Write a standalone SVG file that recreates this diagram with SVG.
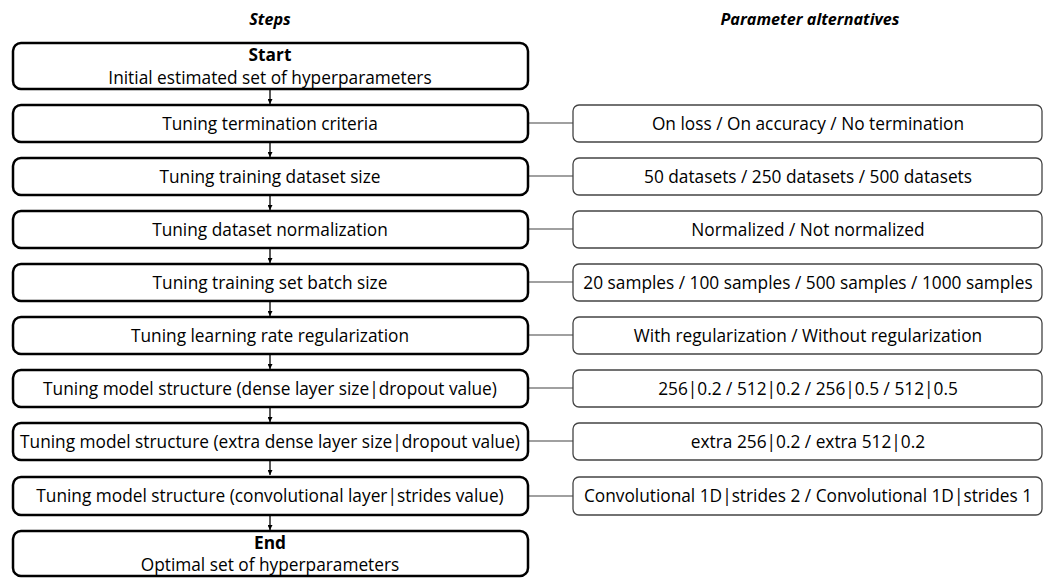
<svg xmlns="http://www.w3.org/2000/svg" width="1048" height="578" viewBox="0 0 1048 578">
<defs>
<style>
text{font-family:"Open Sans","Liberation Sans",sans-serif;font-size:17.3px;fill:#000;text-anchor:middle}
.title{font-weight:bold;font-style:italic;font-size:16.2px}
.b{font-weight:bold}
.step{fill:#fff;stroke:#000;stroke-width:2.5}
.alt{fill:#fff;stroke:#444;stroke-width:1.3}
.link{stroke:#808080;stroke-width:1.3;fill:none}
.arr{stroke:#000;stroke-width:1.3;fill:none;marker-end:url(#ah)}
</style>
<marker id="ah" viewBox="0 0 8 8" refX="8" refY="4" markerWidth="5" markerHeight="5" markerUnits="userSpaceOnUse" orient="auto"><path d="M0,0 L8,4 L0,8 z" fill="#000"/></marker>
</defs>
<text class="title" x="270" y="25">Steps</text>
<text class="title" x="810" y="25">Parameter alternatives</text>
<g id="connectors">
<line class="arr" x1="270" y1="89" x2="270" y2="104"/>
<line class="arr" x1="270" y1="142" x2="270" y2="157"/>
<line class="arr" x1="270" y1="195" x2="270" y2="210"/>
<line class="arr" x1="270" y1="248" x2="270" y2="263"/>
<line class="arr" x1="270" y1="301" x2="270" y2="316"/>
<line class="arr" x1="270" y1="354" x2="270" y2="369"/>
<line class="arr" x1="270" y1="407" x2="270" y2="422"/>
<line class="arr" x1="270" y1="460" x2="270" y2="475"/>
<line class="arr" x1="270" y1="515" x2="270" y2="530"/>
<line class="link" x1="528" y1="123" x2="573" y2="123"/>
<line class="link" x1="528" y1="176" x2="573" y2="176"/>
<line class="link" x1="528" y1="229" x2="573" y2="229"/>
<line class="link" x1="528" y1="282" x2="573" y2="282"/>
<line class="link" x1="528" y1="335" x2="573" y2="335"/>
<line class="link" x1="528" y1="388" x2="573" y2="388"/>
<line class="link" x1="528" y1="441" x2="573" y2="441"/>
<line class="link" x1="528" y1="496" x2="573" y2="496"/>
</g>
<g id="start"><rect class="step" x="13" y="43" width="515" height="46" rx="8"/><text class="b" x="270" y="61">Start</text><text x="270" y="83.5">Initial estimated set of hyperparameters</text></g>
<g id="s1"><rect class="step" x="13" y="105" width="515" height="37" rx="8"/><text x="270" y="129.5">Tuning termination criteria</text></g>
<g id="s2"><rect class="step" x="13" y="158" width="515" height="37" rx="8"/><text x="270" y="182.5">Tuning training dataset size</text></g>
<g id="s3"><rect class="step" x="13" y="211" width="515" height="37" rx="8"/><text x="270" y="235.5">Tuning dataset normalization</text></g>
<g id="s4"><rect class="step" x="13" y="264" width="515" height="37" rx="8"/><text x="270" y="288.5">Tuning training set batch size</text></g>
<g id="s5"><rect class="step" x="13" y="317" width="515" height="37" rx="8"/><text x="270" y="341.5">Tuning learning rate regularization</text></g>
<g id="s6"><rect class="step" x="13" y="370" width="515" height="37" rx="8"/><text x="270" y="394.5">Tuning model structure (dense layer size|dropout value)</text></g>
<g id="s7"><rect class="step" x="13" y="423" width="515" height="37" rx="8"/><text x="270" y="447.5">Tuning model structure (extra dense layer size|dropout value)</text></g>
<g id="s8"><rect class="step" x="13" y="477" width="515" height="38" rx="8"/><text x="270" y="502">Tuning model structure (convolutional layer|strides value)</text></g>
<g id="end"><rect class="step" x="13" y="531" width="515" height="45" rx="8"/><text class="b" x="270" y="549">End</text><text x="270" y="571">Optimal set of hyperparameters</text></g>
<g id="a1"><rect class="alt" x="573" y="105" width="469" height="37" rx="6"/><text x="808" y="129.5">On loss / On accuracy / No termination</text></g>
<g id="a2"><rect class="alt" x="573" y="158" width="469" height="37" rx="6"/><text x="808" y="182.5">50 datasets / 250 datasets / 500 datasets</text></g>
<g id="a3"><rect class="alt" x="573" y="211" width="469" height="37" rx="6"/><text x="808" y="235.5">Normalized / Not normalized</text></g>
<g id="a4"><rect class="alt" x="573" y="264" width="469" height="37" rx="6"/><text x="808" y="288.5">20 samples / 100 samples / 500 samples / 1000 samples</text></g>
<g id="a5"><rect class="alt" x="573" y="317" width="469" height="37" rx="6"/><text x="808" y="341.5">With regularization / Without regularization</text></g>
<g id="a6"><rect class="alt" x="573" y="370" width="469" height="37" rx="6"/><text x="808" y="394.5">256|0.2 / 512|0.2 / 256|0.5 / 512|0.5</text></g>
<g id="a7"><rect class="alt" x="573" y="423" width="469" height="37" rx="6"/><text x="808" y="447.5">extra 256|0.2 / extra 512|0.2</text></g>
<g id="a8"><rect class="alt" x="573" y="477" width="469" height="38" rx="6"/><text x="808" y="502">Convolutional 1D|strides 2 / Convolutional 1D|strides 1</text></g>
</svg>
